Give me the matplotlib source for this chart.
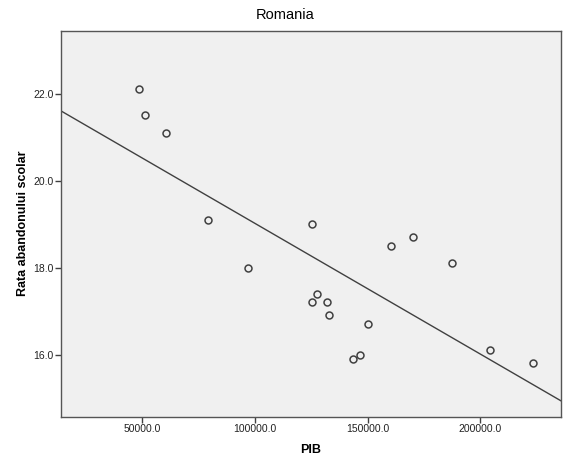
import matplotlib
matplotlib.use("Agg")
import matplotlib.pyplot as plt
import numpy as np
from matplotlib.ticker import FormatStrFormatter

plt.rcParams['font.family'] = ['Liberation Sans', 'DejaVu Sans']

# PIB vs. school dropout rate
pib = [48670, 51070, 60390, 79170, 97070, 125350, 127720, 125220, 132020,
       133050, 150360, 143700, 146530, 160300, 170340, 187660, 204530, 223370]
rata = [22.1, 21.5, 21.1, 19.1, 18.0, 19.0, 17.4, 17.2, 17.2,
        16.9, 16.7, 15.9, 16.0, 18.5, 18.7, 18.1, 16.1, 15.8]
xticks = [50000, 100000, 150000, 200000]
yticks = [16.0, 18.0, 20.0, 22.0]

INK = "#404040"

fig = plt.figure(figsize=(5.67, 4.66), dpi=100)
ax = fig.add_axes([0.1076, 0.1058, 0.8818, 0.8283])
ax.set_facecolor("#F0F0F0")

ax.set_xlim(13900, 235900)
ax.set_ylim(14.57, 23.45)

ax.plot(pib, rata, "o", ms=5, mfc="none", mec=INK, mew=1.1)

slope, icpt = np.polyfit(pib, rata, 1)
xs = np.array(ax.get_xlim())
ax.plot(xs, slope * xs + icpt, color=INK, lw=1.0)

ax.set_xticks(xticks)
ax.set_yticks(yticks)
ax.xaxis.set_major_formatter(FormatStrFormatter("%.1f"))
ax.yaxis.set_major_formatter(FormatStrFormatter("%.1f"))
ax.tick_params(direction="out", length=4, width=1, color=INK,
               labelsize=7.5, labelcolor="#222222", pad=1.5)
for s in ax.spines.values():
    s.set_color("#555555")
    s.set_linewidth(1.0)

ax.set_xlabel("PIB", fontsize=9, fontweight="bold", labelpad=7)
ax.set_ylabel("Rata abandonului scolar", fontsize=9, fontweight="bold", labelpad=3)
fig.text(0.502, 1 - 15 / 466, "Romania", fontsize=10.5, ha="center", va="center")

fig.savefig("out.png", dpi=100)
